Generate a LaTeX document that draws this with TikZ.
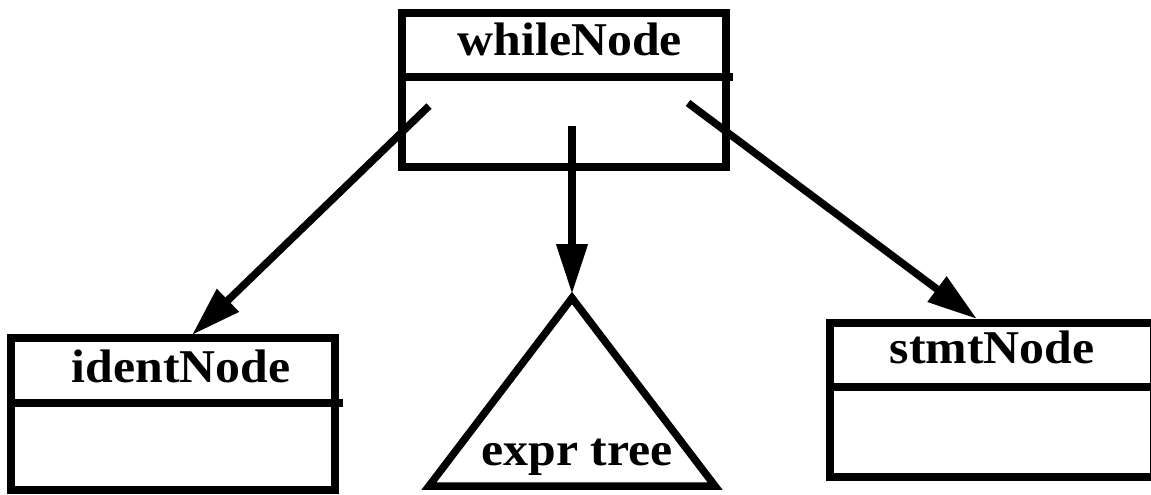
\documentclass[tikz,border=0pt]{standalone}
\usepackage{fontspec}
\setmainfont{Liberation Serif}[FakeStretch=1.06]
\usepackage{tikz}
\usetikzlibrary{arrows.meta}
\usetikzlibrary{positioning}

\begin{document}
\begin{tikzpicture}[x=1pt,y=-1pt]
    \tikzstyle{every path}=[line width=7.5pt]
    \tikzstyle{box}=[draw=black,line width=7.5pt,minimum width=324pt,inner sep=0pt]
    \tikzstyle{lbl}=[font=\fontsize{47}{50}\selectfont\bfseries,anchor=base,inner sep=0pt]
    \tikzstyle{ptr}=[-{Triangle[length=50pt,width=30pt]}]

    \useasboundingbox (0,0) rectangle (1151,495);

    % record boxes
    \node[box,minimum height=154pt] (whilebox) at (564,90) {};
    \node[box,minimum height=152pt] (identbox) at (173,414) {};
    \node[box,minimum height=154pt] (stmtbox) at (992,400) {};

    % separators, a bit too long on the right
    \draw (402,77) -- (733,77);
    \draw (11,403) -- (343,403);
    \draw (830,387) -- (1160,387);

    \node[lbl] (whiletxt) at (570,56) {whileNode};
    \node[lbl] (identtxt) at (181,382) {identNode};
    \node[lbl] (stmttxt) at (992,363) {stmtNode};

    % the expression subtree
    \coordinate (apex) at (572,298);
    \draw[line join=miter] (apex) -- (429,486) -- (715,486) -- cycle;
    \node[lbl] (exprtxt) at (577,465) {expr tree};

    \coordinate (wl) at (429,106);
    \coordinate (wm) at (572,126);
    \coordinate (wr) at (688,103);
    \coordinate (identtop) at (192,335);
    \coordinate (exprtop) at (572,294);
    \coordinate (stmttop) at (977,319);

    \draw[ptr] (wl) -- (identtop);
    \draw[ptr] (wm) -- (exprtop);
    \draw[ptr] (wr) -- (stmttop);
\end{tikzpicture}
\end{document}
